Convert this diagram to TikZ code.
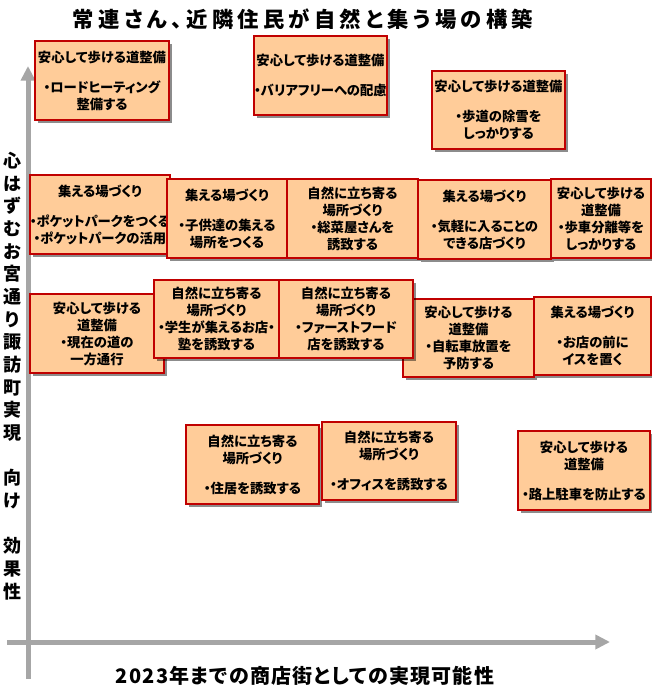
\documentclass[tikz,border=0pt]{standalone}
\usepackage{fontspec}
\setmainfont{Noto Sans CJK JP}[RawFeature=+palt]
\usetikzlibrary{shadows,arrows.meta}
\definecolor{boxfill}{RGB}{255,204,153}
\definecolor{boxline}{RGB}{192,0,0}
\definecolor{axisgray}{RGB}{166,166,166}
\tikzset{
  card/.style={draw=boxline, line width=1.3pt, fill=boxfill, align=center, inner sep=0pt,
    font=\bfseries\fontsize{10}{12.75}\selectfont,
    drop shadow={shadow xshift=2.5pt, shadow yshift=-2.5pt, opacity=0.45, fill=black}},
  axisline/.style={draw=axisgray, line width=3.75pt},
  axisarrow/.style={axisline, -{Triangle[length=11pt,width=10.5pt]}},
  titletext/.style={font=\bfseries\fontsize{16}{19}\selectfont\addfontfeatures{LetterSpace=20}},
  xlabeltext/.style={font=\bfseries\fontsize{15}{18}\selectfont\addfontfeatures{LetterSpace=6}},
  ylabeltext/.style={font=\bfseries\fontsize{13.5}{17}\selectfont, align=center, inner sep=0pt},
}
\begin{document}
\begin{tikzpicture}[x=0.75pt, y=-0.75pt]
\useasboundingbox (0,0) rectangle (652,693);
% axes
\coordinate (yb) at (28,679);
\coordinate (yt) at (28,66);
\coordinate (xl) at (7,642);
\coordinate (xr) at (610,642);
\draw[axisarrow] (yb) -- (yt);
\draw[axisarrow] (xl) -- (xr);
% titles
\node[titletext] (title) at (303,19) {常連さん、近隣住民が自然と集う場の構築};
\node[xlabeltext] (xlab) at (305,676) {2023年までの商店街としての実現可能性};
\node[ylabeltext] (ylab) at (12,376) {心\\は\\ず\\む\\お\\宮\\通\\り\\諏\\訪\\町\\実\\現\\[17pt]向\\け\\[17pt]効\\果\\性};
% boxes
\node[card, minimum width=100.5pt, minimum height=59.25pt] (A) at (102,80.5) {安心して歩ける道整備\\[9.75pt]・ロードヒーティング\\整備する};
\node[card, minimum width=99.75pt, minimum height=59.25pt] (B) at (320.5,75.5) {安心して歩ける道整備\\[9.75pt]・バリアフリーへの配慮};
\node[card, minimum width=99.75pt, minimum height=58.5pt] (C) at (498.5,110) {安心して歩ける道整備\\[9.75pt]・歩道の除雪を\\しっかりする};
\node[card, minimum width=100.5pt, minimum height=59.25pt] (D) at (100,214.5) {集える場づくり\\[9.75pt]・ポケットパークをつくる\\・ポケットパークの活用};
\node[card, minimum width=90pt, minimum height=59.25pt] (E) at (227,218.5) {集える場づくり\\[9.75pt]・子供達の集える\\場所をつくる};
\node[card, minimum width=98.25pt, minimum height=59.25pt] (F) at (352.5,218.5) {自然に立ち寄る\\場所づくり\\・総菜屋さんを\\誘致する};
\node[card, minimum width=99.75pt, minimum height=59.25pt] (G) at (484.5,219.5) {集える場づくり\\[9.75pt]・気軽に入ることの\\できる店づくり};
\node[card, minimum width=75pt, minimum height=59.25pt] (H) at (601,218.5) {安心して歩ける\\道整備\\・歩車分離等を\\しっかりする};
\node[card, minimum width=100.5pt, minimum height=59.25pt] (I) at (97,333.5) {安心して歩ける\\道整備\\・現在の道の\\一方通行};
\node[card, minimum width=98.25pt, minimum height=58.5pt] (L) at (468.5,338) {安心して歩ける\\道整備\\・自転車放置を\\予防する};
\node[card, minimum width=93.75pt, minimum height=58.5pt] (J) at (216.5,319) {自然に立ち寄る\\場所づくり\\・学生が集えるお店・\\塾を誘致する};
\node[card, minimum width=100.5pt, minimum height=58.5pt] (K) at (346,319) {自然に立ち寄る\\場所づくり\\・ファーストフード\\店を誘致する};
\node[card, minimum width=87.75pt, minimum height=58.5pt] (M) at (592.5,336) {集える場づくり\\[9.75pt]・お店の前に\\イスを置く};
\node[card, minimum width=99.75pt, minimum height=59.25pt] (N) at (252.5,464.5) {自然に立ち寄る\\場所づくり\\[9.75pt]・住居を誘致する};
\node[card, minimum width=100.5pt, minimum height=58.5pt] (O) at (389,461) {自然に立ち寄る\\場所づくり\\[9.75pt]・オフィスを誘致する};
\node[card, minimum width=99pt, minimum height=59.25pt] (P) at (584,470.5) {安心して歩ける\\道整備\\[9.75pt]・路上駐車を防止する};
\end{tikzpicture}
\end{document}
